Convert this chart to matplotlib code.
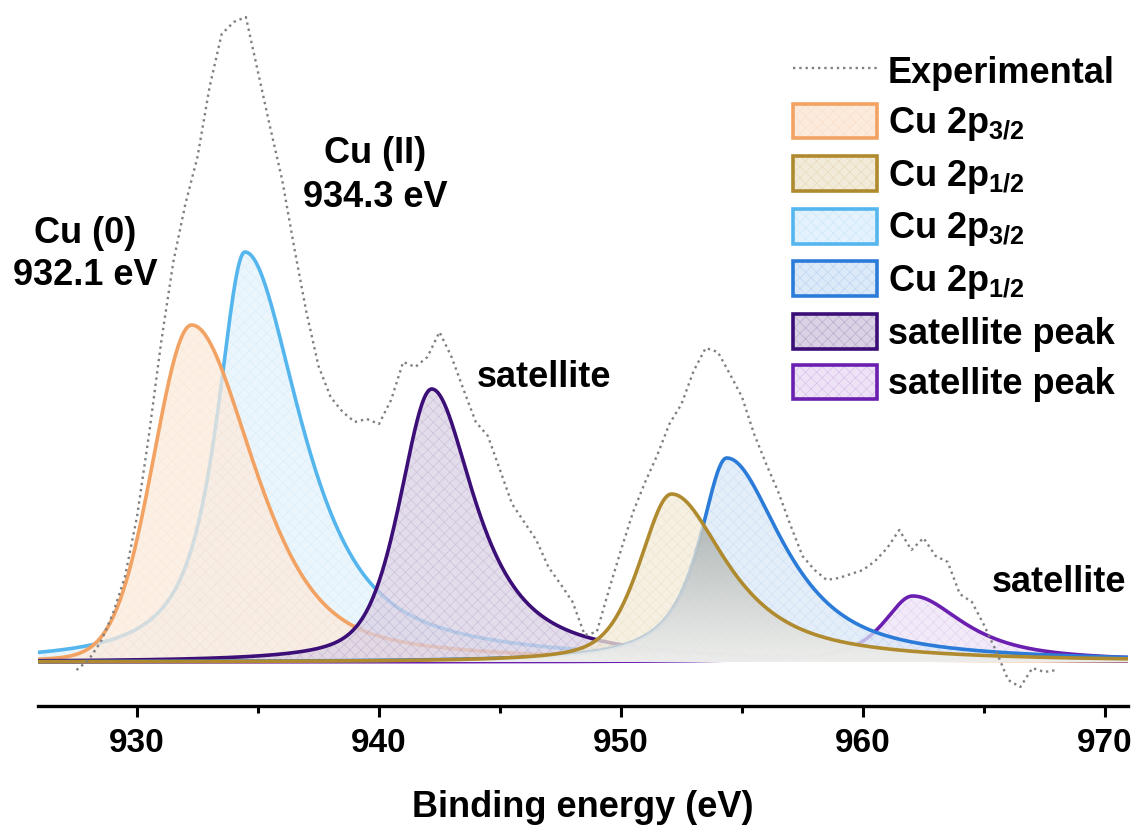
import numpy as np
import matplotlib
matplotlib.use("Agg")
import matplotlib.pyplot as plt
from matplotlib.lines import Line2D
from matplotlib.patches import Patch
from matplotlib.colors import to_rgba, LinearSegmentedColormap

plt.rcParams['font.family'] = ['Liberation Sans', 'DejaVu Sans']
plt.rcParams['font.weight'] = 'bold'
plt.rcParams['mathtext.fontset'] = 'custom'
plt.rcParams['mathtext.default'] = 'bf'
plt.rcParams['mathtext.bf'] = 'Liberation Sans:bold'
plt.rcParams['hatch.linewidth'] = 0.4

# experimental spectrum, read every 0.5 eV from 927.5 eV (a.u.)
exp_start = 927.5
exp_step = 0.5
exp_counts = [-8, 2, 20, 48, 85, 145, 228, 320, 400, 458,
              505, 575, 628, 640, 645, 590, 535, 482, 414, 350,
              296, 265, 250, 240, 243, 238, 262, 300, 295, 305,
              330, 305, 272, 240, 226, 192, 158, 140, 122, 95,
              78, 60, 27, 30, 72, 112, 150, 180, 207, 238,
              258, 291, 314, 310, 288, 265, 228, 198, 170, 137,
              106, 92, 82, 84, 88, 92, 101, 114, 132, 112,
              124, 106, 100, 68, 60, 37, 11, -18, -25, -6,
              -10, -8]

# fitted components (asymmetric pseudo-Voigt: centre, height, half widths, Lorentz share)
comp_labels = [r'Cu 2p$_{3/2}$', r'Cu 2p$_{1/2}$', r'Cu 2p$_{3/2}$',
               r'Cu 2p$_{1/2}$', 'satellite peak', 'satellite peak']
comp_colors = ['#F2A262', '#B08A2E', '#55B6EE', '#2B7BD9', '#3B0F77', '#6B1FB0']
comp_tints = ['#FCEBDD', '#F2EBD9', '#E3F2FC', '#DCE9F8', '#DAD1E4', '#EEE3F6']
comp_center = [932.26, 952.09, 934.46, 954.37, 942.18, 962.05]
comp_height = [337, 168, 410, 204, 273, 66]
comp_wleft = [1.86, 1.55, 1.4, 1.37, 1.55, 1.45]
comp_wright = [3.0, 2.75, 2.75, 2.75, 2.15, 2.55]
comp_eta_left = [0.1, 0.5, 0.9, 0.9, 0.5, 0.8]
comp_eta_right = [0.55, 0.9, 0.8, 0.85, 0.9, 0.9]
hatch_alpha = [0.10, 0.12, 0.10, 0.12, 0.15, 0.12]
draw_order = [2, 0, 4, 5, 3, 1]


def peak(x, c, h, wl, wr, el, er):
    left = x < c
    w = np.where(left, wl, wr)
    eta = np.where(left, el, er)
    u = ((x - c) / w) ** 2
    return h * (eta / (1 + u) + (1 - eta) * np.exp(-np.log(2) * u))


fig = plt.figure(figsize=(11.42, 8.3), dpi=100)
ax = fig.add_axes([38 / 1142, 124 / 830, 1090 / 1142, 701 / 830])

xmin, xmax = 925.91, 970.95
x = np.linspace(xmin, xmax, 1500)
curves = [peak(x, comp_center[i], comp_height[i], comp_wleft[i], comp_wright[i],
               comp_eta_left[i], comp_eta_right[i]) for i in range(6)]

# each component: fill then outline, later ones drawn over earlier ones
for k, i in enumerate(draw_order):
    z = 1 + k
    ax.fill_between(x, 0, curves[i], facecolor=to_rgba(comp_tints[i], 0.75),
                    edgecolor=to_rgba(comp_colors[i], hatch_alpha[i]), hatch='xxx',
                    lw=0, zorder=z)
    if i == 1:
        # greyish shaded overlap of the two 2p1/2 peaks
        overlap = np.minimum(curves[1], curves[3])
        poly = ax.fill_between(x, 0, overlap, facecolor='none', lw=0)
        grey = LinearSegmentedColormap.from_list('grey', ['#eef0f0', '#a6afb2'])
        im = ax.imshow(np.linspace(0, 1, 256).reshape(-1, 1),
                       extent=[xmin, xmax, 0, overlap.max()], origin='lower',
                       cmap=grey, aspect='auto', alpha=0.8, zorder=z + 0.2)
        im.set_clip_path(poly.get_paths()[0], transform=ax.transData)
    ax.plot(x, curves[i], color=comp_colors[i], lw=2.6, zorder=z + 0.5)

exp_x = exp_start + exp_step * np.arange(len(exp_counts))
ax.plot(exp_x, exp_counts, color='#808080', ls=':', lw=1.7, zorder=10)

ax.set_xlim(xmin, xmax)
ax.set_ylim(-44, 657)
ax.set_yticks([])
for s in ['left', 'right', 'top']:
    ax.spines[s].set_visible(False)
ax.spines['bottom'].set_linewidth(2.4)
ax.set_xticks([930, 940, 950, 960, 970])
ax.set_xticks([935, 945, 955, 965], minor=True)
ax.tick_params(axis='x', which='major', length=8, width=2.2, labelsize=24, pad=8)
ax.tick_params(axis='x', which='minor', length=5, width=2.2)
ax.set_xlabel('Binding energy (eV)', fontsize=26, fontweight='bold', labelpad=22)

ax.text(927.87, 429, 'Cu (0)', fontsize=26, ha='center', va='center')
ax.text(927.87, 387, '932.1 eV', fontsize=26, ha='center', va='center')
ax.text(939.83, 509, 'Cu (II)', fontsize=26, ha='center', va='center')
ax.text(939.83, 465, '934.3 eV', fontsize=26, ha='center', va='center')
ax.text(944.05, 285, 'satellite', fontsize=26, ha='left', va='center')
ax.text(965.33, 80, 'satellite', fontsize=26, ha='left', va='center')

handles = [Line2D([], [], color='#808080', ls=':', lw=1.7)]
for i in range(6):
    h_fill = Patch(facecolor=comp_tints[i],
                   edgecolor=to_rgba(comp_colors[i], hatch_alpha[i] + 0.08),
                   hatch='xxx', lw=0)
    h_edge = Patch(facecolor='none', edgecolor=comp_colors[i], lw=2.6)
    handles.append((h_fill, h_edge))
fig.legend(handles, ['Experimental'] + comp_labels, loc='upper left',
           bbox_to_anchor=(775 / 1142, 1 - 35 / 830), frameon=False,
           fontsize=26, borderpad=0, handlelength=2.33, handleheight=1.1,
           handletextpad=0.3, labelspacing=0.36)

fig.savefig('out.png', dpi=100)
